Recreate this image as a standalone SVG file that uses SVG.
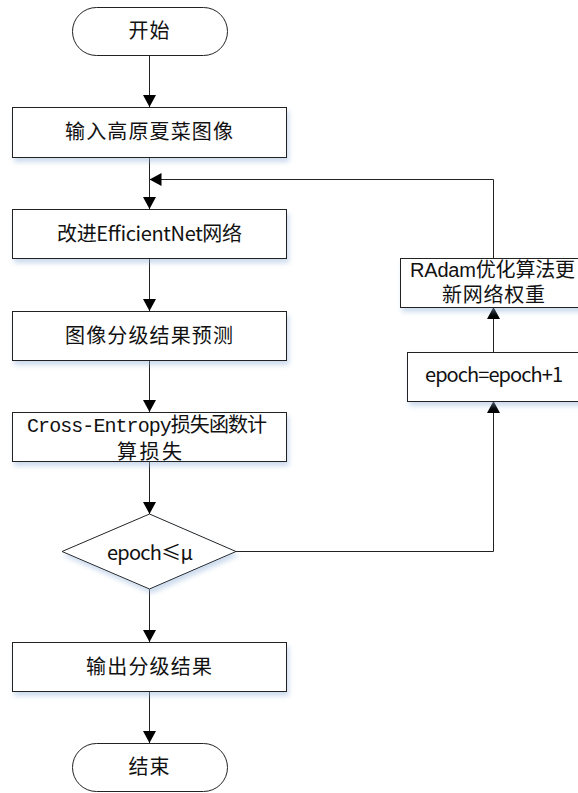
<svg xmlns="http://www.w3.org/2000/svg" width="578" height="793" viewBox="0 0 578 793">
<style>
.shape{fill:#fff;stroke:#222;stroke-width:1}
.t{font-family:"Noto Sans CJK SC","Liberation Sans",sans-serif;font-size:20px;fill:#111;text-anchor:middle}
.m{font-family:"Liberation Mono","Noto Sans CJK SC",monospace}
.s{font-family:"Liberation Sans","Noto Sans CJK SC",sans-serif}
.c{fill:none;stroke:#222;stroke-width:1}
</style>
<defs>
<filter id="sh" x="-10%" y="-20%" width="125%" height="160%">
<feDropShadow dx="2" dy="4" stdDeviation="2.5" flood-color="#8fb0d8" flood-opacity="0.45"/>
</filter>
<marker id="arr" markerUnits="userSpaceOnUse" markerWidth="12" markerHeight="13" refX="12" refY="6.5" orient="auto">
<path d="M0,0 L12,6.5 L0,13 z" fill="#000"/>
</marker>
</defs>
<rect width="578" height="793" fill="#fff"/>
<g id="connectors">
<line class="c" x1="149.5" y1="55" x2="149.5" y2="107" marker-end="url(#arr)"/>
<line class="c" x1="149.5" y1="157" x2="149.5" y2="209" marker-end="url(#arr)"/>
<polyline class="c" points="493.5,258 493.5,179.5 149.5,179.5" marker-end="url(#arr)"/>
<line class="c" x1="149.5" y1="258" x2="149.5" y2="311" marker-end="url(#arr)"/>
<line class="c" x1="149.5" y1="360" x2="149.5" y2="412" marker-end="url(#arr)"/>
<line class="c" x1="149.5" y1="461" x2="149.5" y2="514" marker-end="url(#arr)"/>
<line class="c" x1="149.5" y1="589" x2="149.5" y2="642" marker-end="url(#arr)"/>
<line class="c" x1="149.5" y1="691" x2="149.5" y2="743" marker-end="url(#arr)"/>
<polyline class="c" points="236,551.5 493.5,551.5 493.5,401" marker-end="url(#arr)"/>
<line class="c" x1="493.5" y1="352" x2="493.5" y2="307" marker-end="url(#arr)"/>
</g>
<g id="start">
<rect class="shape" x="72.5" y="7.5" width="155" height="48" rx="24" ry="24"/>
<text class="t" x="149" y="38" textLength="41">开始</text>
</g>
<g id="input">
<rect class="shape" filter="url(#sh)" x="12.5" y="107.5" width="274" height="50"/>
<text class="t" x="149" y="139" textLength="168">输入高原夏菜图像</text>
</g>
<g id="network">
<rect class="shape" filter="url(#sh)" x="12.5" y="209.5" width="274" height="49"/>
<text class="t" x="149.5" y="240.5" textLength="185">改进EfficientNet网络</text>
</g>
<g id="predict">
<rect class="shape" filter="url(#sh)" x="12.5" y="311.5" width="274" height="49"/>
<text class="t" x="149" y="342.5" textLength="168">图像分级结果预测</text>
</g>
<g id="loss">
<rect class="shape" filter="url(#sh)" x="12.5" y="412.5" width="274" height="49"/>
<text class="t m" x="147" y="432" textLength="240">Cross-Entropy损失函数计</text>
<text class="t" x="149.5" y="459" textLength="65">算损失</text>
</g>
<g id="decision">
<polygon class="shape" filter="url(#sh)" points="149.5,514 236,551.5 149.5,589 62,551.5"/>
<text class="t" x="150" y="560" textLength="86">epoch≤μ</text>
</g>
<g id="output">
<rect class="shape" filter="url(#sh)" x="12.5" y="642.5" width="274" height="49"/>
<text class="t" x="149" y="673.5" textLength="126">输出分级结果</text>
</g>
<g id="end">
<rect class="shape" x="72.5" y="743.5" width="155" height="48" rx="24" ry="24"/>
<text class="t" x="149" y="774" textLength="41">结束</text>
</g>
<g id="radam">
<rect class="shape" filter="url(#sh)" x="400.5" y="258.5" width="190" height="49"/>
<text class="t s" x="492.5" y="277" textLength="165">RAdam优化算法更</text>
<text class="t s" x="493.5" y="302" textLength="103">新网络权重</text>
</g>
<g id="epoch">
<rect class="shape" filter="url(#sh)" x="407.5" y="352.5" width="180" height="49"/>
<text class="t" x="494" y="382" textLength="138">epoch=epoch+1</text>
</g>
</svg>
